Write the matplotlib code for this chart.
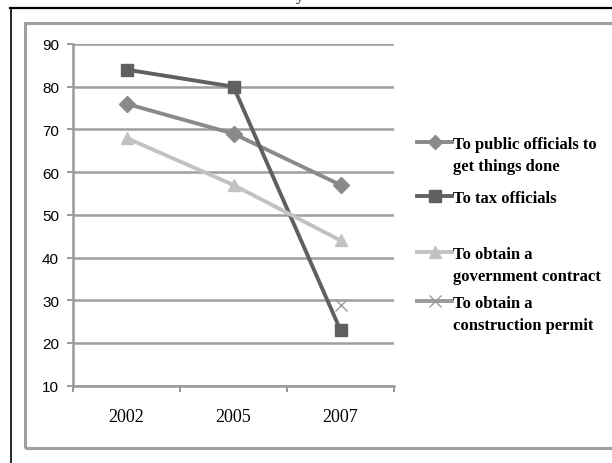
import matplotlib
matplotlib.use("Agg")
import matplotlib.pyplot as plt
from matplotlib.lines import Line2D
from matplotlib.patches import Rectangle
import numpy as np

W, H = 612, 464

years = ["2002", "2005", "2007"]
public_officials = [76, 69, 57]
tax_officials = [84, 80, 23]
govt_contract = [68, 57, 44]
construction_permit = [np.nan, np.nan, 29]

series = [
    ("To public officials to\nget things done", public_officials,
     dict(color="#8a8a8a", marker="D", ms=8, lw=2.8)),
    ("To tax officials", tax_officials,
     dict(color="#606060", marker="s", ms=9, lw=2.8)),
    ("To obtain a\ngovernment contract", govt_contract,
     dict(color="#c2c2c2", marker="^", ms=9, lw=2.8)),
    ("To obtain a\nconstruction permit", construction_permit,
     dict(color="#9a9a9a", marker="x", ms=9, mew=1.0, lw=2.8)),
]
legend_y = [143, 197, 253, 302]


def px(x, y):
    return x / W, 1 - y / H


fig = plt.figure(figsize=(W / 100, H / 100), dpi=100)

# frame bits around the chart
fig.add_artist(Line2D([10 / W, 1], [1 - 9 / H] * 2, color="black", lw=1.6))
fig.add_artist(Line2D([11 / W] * 2, [0, 1 - 9 / H], color="black", lw=1.2))
fig.add_artist(Rectangle(px(25, 449), (W + 20) / W, (449 - 24) / H,
                         fill=False, ec="#a0a0a0", lw=2.2))
fig.text(300 / W, 1 - 1 / H, "y", family="Liberation Serif", fontsize=11,
         ha="center", va="baseline")

ax = fig.add_axes([73 / W, 1 - 386.7 / H, 321 / W, (386.7 - 45) / H])
x = np.arange(len(years))
for label, vals, st in series:
    ax.plot(x, vals, **st)

ax.set_xlim(-0.5, 2.5)
ax.set_ylim(10, 90)
ax.set_yticks(range(10, 91, 10))
ax.set_xticks(x)
ax.set_xticklabels(years, family="Liberation Serif", fontsize=13)
ax.set_xticks([-0.5, 0.5, 1.5, 2.5], minor=True)
ax.tick_params(axis="x", which="major", length=0, pad=16)
ax.tick_params(axis="x", which="minor", length=4, width=1.4, color="#999999", direction="out")
ax.tick_params(axis="y", length=4, width=1.4, color="#999999", pad=6,
               labelsize=11)
for t in ax.get_yticklabels():
    t.set_family("Liberation Sans")
ax.grid(axis="y", color="#9f9f9f", lw=1.8)
ax.set_axisbelow(True)
for s in ["top", "right"]:
    ax.spines[s].set_visible(False)
ax.spines["left"].set_color("#999999")
ax.spines["left"].set_linewidth(1.8)
ax.spines["bottom"].set_color("#999999")
ax.spines["bottom"].set_linewidth(1.8)

# legend drawn by hand to keep the marker on the first text line
for (label, vals, st), ly in zip(series, legend_y):
    fx, fy = px(417, ly)
    fx2, _ = px(452, ly)
    fig.add_artist(Line2D([fx, fx2], [fy, fy], color=st["color"], lw=st["lw"]))
    fig.add_artist(Line2D([(fx + fx2) / 2], [fy], color=st["color"],
                          marker=st["marker"], ms=st["ms"] * 0.9,
                          mew=st.get("mew", 1.0), lw=0))
    fig.text(fx2 + 1 / W, fy + 6 / H, label, family="Liberation Serif",
             fontweight="bold", fontsize=12, va="top", ha="left",
             linespacing=1.5)

fig.savefig("out.png", dpi=100)
